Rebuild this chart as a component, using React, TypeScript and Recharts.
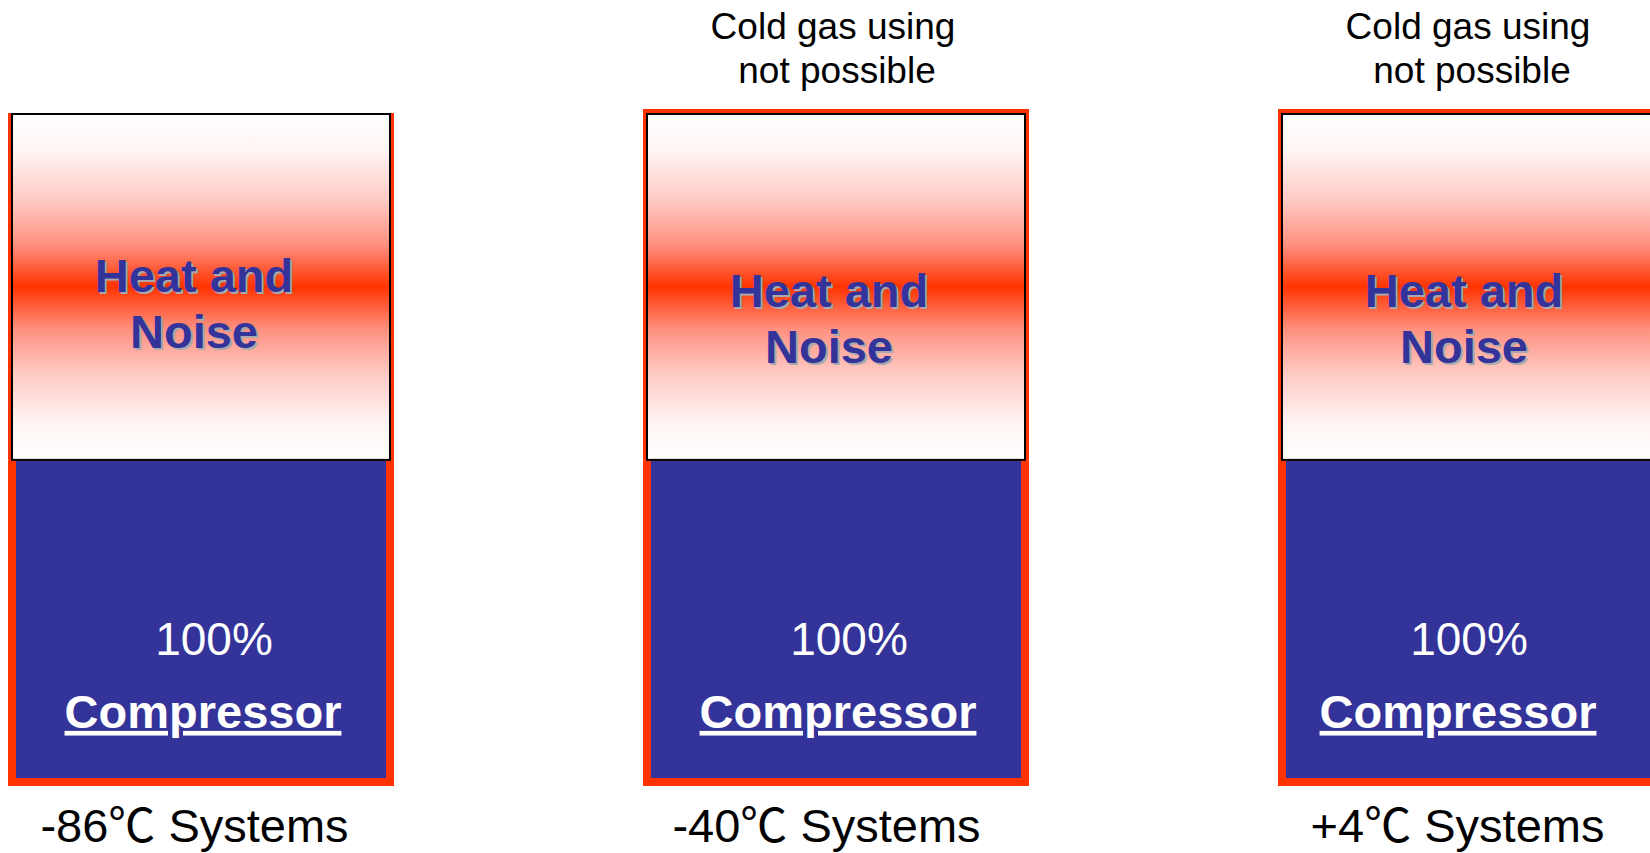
import React from 'react';
import { BarChart, Bar, XAxis, YAxis, LabelList } from 'recharts';

// values
const systems = ['-86℃ Systems', '-40℃ Systems', '+4℃ Systems'];
const compressorShare = [100, 100, 100];
const heatAndNoise = [107, 107, 107];
const notes = ['', 'Cold gas using\nnot possible', 'Cold gas using\nnot possible'];

const chartData = systems.map((name, i) => ({
  name,
  compressor: compressorShare[i],
  heat: heatAndNoise[i],
  note: notes[i],
}));

const FONT = '"Liberation Sans", Arial, "Noto Sans CJK SC", sans-serif';
const RED = '#FF3300';
const BLUE = '#333399';

// small per-panel nudges as seen on the original slide
const heatDy = [-15, 0, 0];
const lowerDx = [0, 0, -15];
const tickDx = [-6, -9, -13];

function CompressorShape(props: any) {
  const { x, y, width, height } = props;
  return (
    <g>
      <rect x={x} y={y} width={width} height={height} fill={RED} />
      <rect x={x + 8} y={y} width={width - 16} height={height - 8} fill={BLUE} />
    </g>
  );
}

function HeatShape(props: any) {
  const { x, y, width, height, index } = props;
  const top = index === 0 ? 0 : 4;
  return (
    <g>
      <rect x={x} y={y - top} width={width} height={height + top} fill={RED} />
      <rect
        x={x + 4}
        y={y + 1}
        width={width - 8}
        height={height - 2}
        fill="url(#heatFill)"
        stroke="#000"
        strokeWidth={2}
      />
    </g>
  );
}

function HeatLabel(props: any) {
  const { x, y, width, index } = props;
  const cx = x + width / 2 - 7;
  const base = y + 194 + heatDy[index];
  const lines = ['Heat and', 'Noise'];
  return (
    <g style={{ fontFamily: FONT, fontWeight: 'bold', fontSize: 47 }}>
      {lines.map((t, k) => (
        <g key={k}>
          <text x={cx + 2} y={base + k * 56 + 2} textAnchor="middle" fill="#a8a8b0">
            {t}
          </text>
          <text x={cx} y={base + k * 56} textAnchor="middle" fill={BLUE}>
            {t}
          </text>
        </g>
      ))}
    </g>
  );
}

function NoteLabel(props: any) {
  const { x, y, width, value } = props;
  if (!value) return null;
  const cx = x + width / 2;
  const lines = String(value).split('\n');
  return (
    <g style={{ fontFamily: FONT, fontSize: 37 }} fill="#000">
      <text x={cx - 3} y={y - 74} textAnchor="middle">
        {lines[0]}
      </text>
      <text x={cx + 1} y={y - 30} textAnchor="middle">
        {lines[1]}
      </text>
    </g>
  );
}

function CompressorLabel(props: any) {
  const { x, y, width, value, index } = props;
  const cx = x + width / 2 + lowerDx[index];
  return (
    <g style={{ fontFamily: FONT }} fill="#fff">
      <text x={cx + 13} y={y + 194} textAnchor="middle" fontSize={46}>
        {value}%
      </text>
      <text
        x={cx + 2}
        y={y + 267}
        textAnchor="middle"
        fontSize={47}
        fontWeight="bold"
        style={{ textDecoration: 'underline' }}
      >
        Compressor
      </text>
    </g>
  );
}

function SystemTick(props: any) {
  const { x, y, payload, index } = props;
  return (
    <text
      x={x + tickDx[index]}
      y={y + 56}
      textAnchor="middle"
      fill="#000"
      style={{ fontFamily: FONT, fontSize: 47 }}
    >
      {payload.value}
    </text>
  );
}

export default function App() {
  return (
    <div
      style={{
        position: 'absolute',
        left: 0,
        top: 0,
        width: 1650,
        height: 853,
        overflow: 'hidden',
        background: '#fff',
      }}
    >
      <div style={{ position: 'absolute', left: -117.5, top: 0 }}>
        <BarChart
          width={1905}
          height={853}
          data={chartData}
          margin={{ top: 113, right: 0, bottom: 0, left: 0 }}
        >
          <defs>
            <linearGradient id="heatFill" x1="0" y1="0" x2="0" y2="1">
              <stop offset="0%" stopColor="#ffffff" />
              <stop offset="10%" stopColor="#fff6f5" />
              <stop offset="25%" stopColor="#ffcac4" />
              <stop offset="38%" stopColor="#ff8f7e" />
              <stop offset="50%" stopColor={RED} />
              <stop offset="62%" stopColor="#ff8f7e" />
              <stop offset="75%" stopColor="#ffcac4" />
              <stop offset="90%" stopColor="#fff6f5" />
              <stop offset="100%" stopColor="#fffefe" />
            </linearGradient>
          </defs>
          <XAxis
            dataKey="name"
            height={67}
            axisLine={false}
            tickLine={false}
            tickSize={0}
            tickMargin={0}
            interval={0}
            tick={<SystemTick />}
          />
          <YAxis hide domain={[0, 207]} />
          <Bar
            dataKey="compressor"
            name="Compressor"
            stackId="a"
            barSize={386}
            shape={<CompressorShape />}
            isAnimationActive={false}
          >
            <LabelList dataKey="compressor" content={<CompressorLabel />} />
          </Bar>
          <Bar
            dataKey="heat"
            name="Heat and Noise"
            stackId="a"
            barSize={386}
            shape={<HeatShape />}
            isAnimationActive={false}
          >
            <LabelList dataKey="heat" content={<HeatLabel />} />
            <LabelList dataKey="note" content={<NoteLabel />} />
          </Bar>
        </BarChart>
      </div>
    </div>
  );
}
